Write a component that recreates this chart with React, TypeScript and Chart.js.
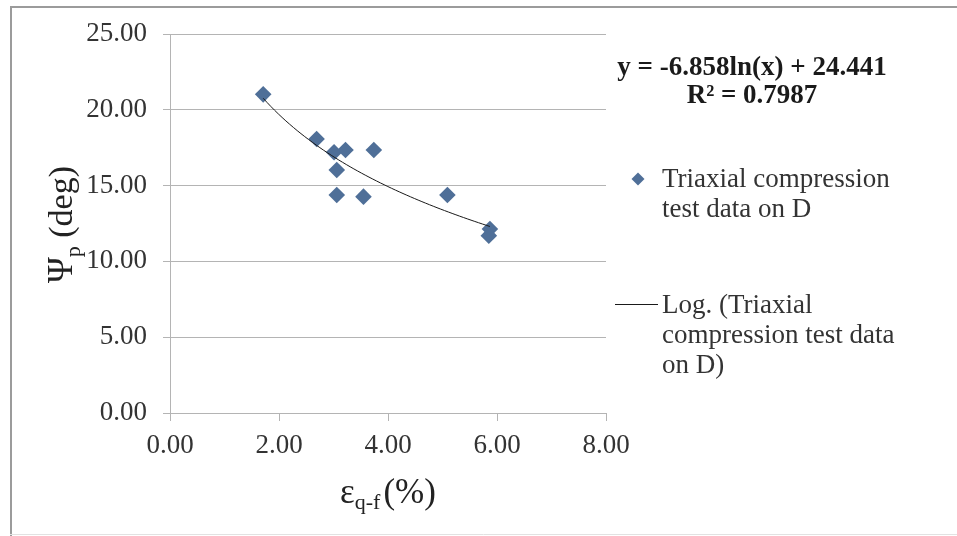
import React, { useEffect, useRef } from "react";
import { Chart, registerables } from "chart.js";

Chart.register(...registerables);

// ---- data ----
const strainPct = [1.71, 2.69, 3.01, 3.22, 3.74, 3.06, 3.06, 3.55, 5.09, 5.87, 5.85];
const dilationDeg = [21.02, 18.07, 17.2, 17.35, 17.35, 16.03, 14.38, 14.27, 14.38, 12.14, 11.7];

// logarithmic trendline shown on the chart: y = a ln(x) + b
const TREND_SLOPE = -6.858;
const TREND_INTERCEPT = 24.441;

const xTickValues = [0, 2, 4, 6, 8];
const yTickValues = [0, 5, 10, 15, 20, 25];

const equationLines = ["y = -6.858ln(x) + 24.441", "R\u00B2 = 0.7987"];
const seriesLabelLines = ["Triaxial compression", "test data on D"];
const trendLabelLines = ["Log. (Triaxial", "compression test data", "on D)"];

const SERIF = "'Liberation Serif', 'Times New Roman', serif";
const POINT_COLOR = "#4F6F98";
const GRID_COLOR = "#b4b4b4";
const TEXT_COLOR = "#333333";

function trendPoints() {
  const xMin = Math.min(...strainPct);
  const xMax = Math.max(...strainPct);
  const pts: { x: number; y: number }[] = [];
  const n = 60;
  for (let i = 0; i <= n; i++) {
    const x = xMin + ((xMax - xMin) * i) / n;
    pts.push({ x, y: TREND_SLOPE * Math.log(x) + TREND_INTERCEPT });
  }
  return pts;
}

type Part = { t: string; size: number; dy: number; gap?: number; bold?: boolean };

function drawParts(ctx: CanvasRenderingContext2D, parts: Part[], cx: number, baseY: number) {
  let total = 0;
  const widths = parts.map((p) => {
    ctx.font = `${p.bold ? "bold " : ""}${p.size}px ${SERIF}`;
    const w = ctx.measureText(p.t).width + (p.gap || 0);
    total += w;
    return w;
  });
  let x = cx - total / 2;
  ctx.textAlign = "left";
  ctx.textBaseline = "alphabetic";
  parts.forEach((p, i) => {
    ctx.font = `${p.bold ? "bold " : ""}${p.size}px ${SERIF}`;
    ctx.fillText(p.t, x, baseY + p.dy);
    x += widths[i];
  });
}

const decorPlugin = {
  id: "decor",
  beforeDraw(chart: any) {
    const ctx: CanvasRenderingContext2D = chart.ctx;
    ctx.save();
    ctx.fillStyle = "#ffffff";
    ctx.fillRect(0, 0, chart.width, chart.height);
    ctx.strokeStyle = "#9b9b9b";
    ctx.lineWidth = 2;
    ctx.beginPath();
    ctx.moveTo(11, chart.height);
    ctx.lineTo(11, 7);
    ctx.lineTo(chart.width, 7);
    ctx.stroke();
    ctx.strokeStyle = "#e2e2e2";
    ctx.lineWidth = 1;
    ctx.beginPath();
    ctx.moveTo(10, 534.5);
    ctx.lineTo(chart.width, 534.5);
    ctx.stroke();
    ctx.restore();
  },
  afterDraw(chart: any) {
    const ctx: CanvasRenderingContext2D = chart.ctx;
    const area = chart.chartArea;
    ctx.save();

    // x axis title: ε_{q-f}(%)
    ctx.fillStyle = "#222222";
    drawParts(
      ctx,
      [
        { t: "\u03B5", size: 35, dy: 0 },
        { t: "q-f", size: 22, dy: 6, gap: 3 },
        { t: "(%)", size: 35, dy: 0 },
      ],
      (area.left + area.right) / 2,
      503
    );

    // y axis title: Ψ_p (deg), rotated
    ctx.save();
    ctx.translate(72, (area.top + area.bottom) / 2 + 1);
    ctx.rotate(-Math.PI / 2);
    drawParts(
      ctx,
      [
        { t: "\u03A8", size: 35, dy: 0 },
        { t: "p", size: 22, dy: 8 },
        { t: " (deg)", size: 34, dy: 0 },
      ],
      0,
      0
    );
    ctx.restore();

    // trendline equation
    ctx.fillStyle = "#1a1a1a";
    ctx.font = `bold 27px ${SERIF}`;
    ctx.textAlign = "center";
    ctx.textBaseline = "alphabetic";
    const eqX = area.right + 146;
    ctx.fillText(equationLines[0], eqX, 75);
    ctx.fillText(equationLines[1], eqX, 103);

    // legend: series marker
    const mx = area.right + 32;
    const my = 179;
    const r = 6.5;
    ctx.fillStyle = POINT_COLOR;
    ctx.beginPath();
    ctx.moveTo(mx, my - r);
    ctx.lineTo(mx + r, my);
    ctx.lineTo(mx, my + r);
    ctx.lineTo(mx - r, my);
    ctx.closePath();
    ctx.fill();

    ctx.fillStyle = TEXT_COLOR;
    ctx.font = `27px ${SERIF}`;
    ctx.textAlign = "left";
    const tx = area.right + 56;
    seriesLabelLines.forEach((line, i) => ctx.fillText(line, tx, 187 + i * 30));

    // legend: trendline
    ctx.strokeStyle = "#1a1a1a";
    ctx.lineWidth = 1;
    ctx.beginPath();
    ctx.moveTo(area.right + 9, 304.5);
    ctx.lineTo(area.right + 52, 304.5);
    ctx.stroke();
    trendLabelLines.forEach((line, i) => ctx.fillText(line, tx, 313 + i * 30));

    ctx.restore();
  },
};

export default function App() {
  const canvasRef = useRef<HTMLCanvasElement | null>(null);

  useEffect(() => {
    if (!canvasRef.current) return;
    const tickFont = { family: SERIF, size: 27 };
    const chart = new Chart(canvasRef.current, {
      type: "scatter",
      data: {
        datasets: [
          {
            label: "Triaxial compression test data on D",
            data: strainPct.map((x, i) => ({ x, y: dilationDeg[i] })),
            backgroundColor: POINT_COLOR,
            borderColor: POINT_COLOR,
            borderWidth: 0,
            pointStyle: "rectRot",
            pointRadius: 8.3,
            order: 2,
          },
          {
            type: "line",
            label: "Log. (Triaxial compression test data on D)",
            data: trendPoints(),
            borderColor: "#1a1a1a",
            borderWidth: 1,
            pointRadius: 0,
            fill: false,
            tension: 0,
            order: 1,
          } as any,
        ],
      },
      options: {
        responsive: false,
        animation: false,
        layout: { padding: { left: 0, top: 34, right: 351, bottom: 0 } },
        plugins: {
          legend: { display: false },
          tooltip: { enabled: false },
        },
        scales: {
          x: {
            type: "linear",
            min: 0,
            max: 8,
            afterBuildTicks: (s: any) => {
              s.ticks = xTickValues.map((v) => ({ value: v }));
            },
            afterFit: (s: any) => {
              s.height = 123;
            },
            ticks: {
              font: tickFont,
              color: TEXT_COLOR,
              padding: 9,
              maxRotation: 0,
              callback: (v: any) => Number(v).toFixed(2),
            },
            grid: {
              drawOnChartArea: false,
              drawTicks: true,
              tickLength: 8,
              color: GRID_COLOR,
            },
            border: { display: true, color: GRID_COLOR, width: 1 },
          },
          y: {
            type: "linear",
            min: 0,
            max: 25,
            afterBuildTicks: (s: any) => {
              s.ticks = yTickValues.map((v) => ({ value: v }));
            },
            afterFit: (s: any) => {
              s.width = 170;
            },
            ticks: {
              font: tickFont,
              color: TEXT_COLOR,
              padding: 16,
              callback: (v: any) => Number(v).toFixed(2),
            },
            grid: {
              drawTicks: true,
              tickLength: 7,
              color: GRID_COLOR,
            },
            border: { display: true, color: GRID_COLOR, width: 1 },
          },
        },
      },
      plugins: [decorPlugin],
    });
    return () => chart.destroy();
  }, []);

  return (
    <div style={{ position: "absolute", left: 0, top: 0, width: 957, height: 536, background: "#fff" }}>
      <canvas ref={canvasRef} width={957} height={536} style={{ display: "block" }} />
    </div>
  );
}
